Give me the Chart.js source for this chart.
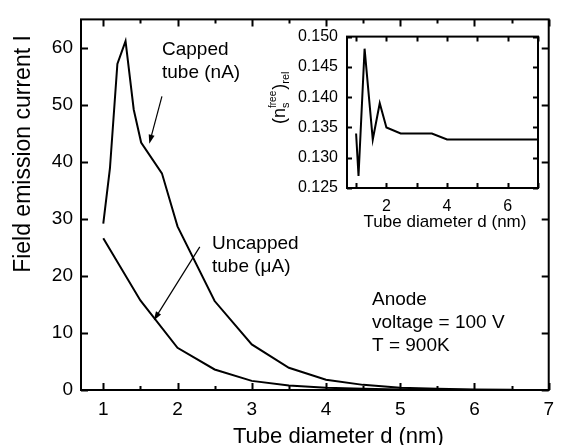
<!DOCTYPE html>
<html>
<head>
<meta charset="utf-8">
<script src="https://cdn.jsdelivr.net/npm/chart.js@4.4.0/dist/chart.umd.min.js"></script>
<style>
  body { margin: 0; background: #fff; }
  #wrap { position: relative; width: 562px; height: 445px; }
  #main { position: absolute; left: 0; top: 0; }
  #inset { position: absolute; left: 260px; top: 18px; }
</style>
</head>
<body>
<div id="wrap">
  <canvas id="main" width="562" height="445"></canvas>
  <canvas id="inset" width="290" height="222"></canvas>
</div>
<script>
// main plot: field emission current vs tube diameter
const cappedD = [1, 1.09, 1.19, 1.3, 1.41, 1.51, 1.79, 2, 2.5, 3, 3.5, 4, 4.5, 5, 5.5, 6, 6.5];
const cappedI = [29.2, 38.9, 57.2, 61.2, 49.2, 43.4, 38, 28.7, 15.6, 8, 3.9, 1.8, 0.9, 0.4, 0.2, 0.1, 0.05];
const uncappedD = [1, 1.5, 2, 2.5, 3, 3.5, 4, 4.5, 5, 5.5, 6, 6.5];
const uncappedI = [26.6, 15.7, 7.4, 3.6, 1.6, 0.8, 0.4, 0.2, 0.1, 0.05, 0.02, 0.01];
const xTicks = [1, 2, 3, 4, 5, 6, 7];
const xMinor = [1.5, 2.5, 3.5, 4.5, 5.5, 6.5];
const yTicks = [0, 10, 20, 30, 40, 50, 60];

// inset: relative free electron density
const insetD = [1, 1.08, 1.28, 1.55, 1.78, 2, 2.47, 3.5, 4, 7];
const insetN = [0.134, 0.127, 0.148, 0.133, 0.139, 0.135, 0.134, 0.134, 0.133, 0.133];
const insetXTicks = [2, 4, 6];
const insetXMinor = [1, 3, 5, 7];
const insetYTicks = [0.125, 0.13, 0.135, 0.14, 0.145, 0.15];

const FONT = '"Liberation Sans", Arial, sans-serif';

const pts = (xs, ys) => xs.map((x, i) => ({ x: x, y: ys[i] }));

function text(ctx, str, x, y, size, align) {
    ctx.font = size + 'px ' + FONT;
    ctx.textAlign = align || 'left';
    ctx.textBaseline = 'alphabetic';
    ctx.fillText(str, x, y);
}

function arrow(ctx, x1, y1, x2, y2) {
    const ang = Math.atan2(y2 - y1, x2 - x1);
    ctx.beginPath();
    ctx.moveTo(x1, y1);
    ctx.lineTo(x2 - 6 * Math.cos(ang), y2 - 6 * Math.sin(ang));
    ctx.stroke();
    ctx.beginPath();
    ctx.moveTo(x2, y2);
    ctx.lineTo(x2 - 9 * Math.cos(ang) + 3 * Math.sin(ang), y2 - 9 * Math.sin(ang) - 3 * Math.cos(ang));
    ctx.lineTo(x2 - 9 * Math.cos(ang) - 3 * Math.sin(ang), y2 - 9 * Math.sin(ang) + 3 * Math.cos(ang));
    ctx.closePath();
    ctx.fill();
}

// box around the plot area plus inward ticks on all four sides
function frameAndTicks(chart, o) {
    const { ctx, chartArea: a, scales: { x, y } } = chart;
    ctx.save();
    ctx.strokeStyle = '#000';
    ctx.lineWidth = o.frame;
    ctx.strokeRect(a.left, a.top, a.right - a.left, a.bottom - a.top);
    ctx.lineWidth = o.tickW;
    ctx.beginPath();
    const vx = (vals, len) => vals.forEach(v => {
        const px = Math.round(x.getPixelForValue(v)) + 0.5;
        ctx.moveTo(px, a.bottom); ctx.lineTo(px, a.bottom - len);
        ctx.moveTo(px, a.top); ctx.lineTo(px, a.top + len);
    });
    const vy = (vals, len) => vals.forEach(v => {
        const py = Math.round(y.getPixelForValue(v)) + 0.5;
        ctx.moveTo(a.left, py); ctx.lineTo(a.left + len, py);
        ctx.moveTo(a.right, py); ctx.lineTo(a.right - len, py);
    });
    vx(o.xMajor, o.major);
    vx(o.xMinor, o.minor);
    vy(o.yMajor, o.major);
    ctx.stroke();
    ctx.restore();
}

const mainDecor = {
    id: 'mainDecor',
    afterDraw(chart) {
        frameAndTicks(chart, { frame: 2, tickW: 2, major: 7, minor: 4, xMajor: xTicks, xMinor: xMinor, yMajor: yTicks });
        const { ctx, scales: { x, y } } = chart;
        ctx.save();
        ctx.fillStyle = '#000';
        ctx.strokeStyle = '#000';
        ctx.lineWidth = 1.2;

        // axis titles
        text(ctx, 'Tube diameter d (nm)', 233, 443, 22);
        ctx.save();
        ctx.translate(30, 154);
        ctx.rotate(-Math.PI / 2);
        text(ctx, 'Field emission current I', 0, 0, 23, 'center');
        ctx.restore();

        // curve labels
        text(ctx, 'Capped', 162, 55, 19);
        text(ctx, 'tube (nA)', 162, 78, 19);
        text(ctx, 'Uncapped', 212, 249, 19);
        text(ctx, 'tube (\u03bcA)', 212, 272, 19);
        text(ctx, 'Anode', 372, 305, 19);
        text(ctx, 'voltage = 100 V', 372, 328, 19);
        text(ctx, 'T = 900K', 372, 351, 19);

        arrow(ctx, x.getPixelForValue(1.79), y.getPixelForValue(51.5), x.getPixelForValue(1.62), y.getPixelForValue(43.2));
        arrow(ctx, x.getPixelForValue(2.3), y.getPixelForValue(25.1), x.getPixelForValue(1.68), y.getPixelForValue(12.2));
        ctx.restore();
    }
};

const insetDecor = {
    id: 'insetDecor',
    afterDraw(chart) {
        frameAndTicks(chart, { frame: 2, tickW: 2, major: 5, minor: 5, xMajor: insetXTicks, xMinor: insetXMinor, yMajor: insetYTicks });
        const { ctx } = chart;
        ctx.save();
        ctx.fillStyle = '#000';
        text(ctx, 'Tube diameter d (nm)', 185, 209, 17, 'center');

        // (n_s^free)_rel, rotated
        ctx.translate(25, 106);
        ctx.rotate(-Math.PI / 2);
        let cx = 0;
        const part = (s, size, dy) => {
            ctx.font = size + 'px ' + FONT;
            ctx.textAlign = 'left';
            ctx.fillText(s, cx, dy);
            return ctx.measureText(s).width;
        };
        cx += part('(', 18, 0);
        cx += part('n', 18, 0);
        const w1 = part('s', 11, 4);
        const w2 = part('free', 10, -9);
        cx += Math.max(w1, w2) + 1;
        cx += part(')', 18, 0);
        part('rel', 11, 4);
        ctx.restore();
    }
};

const lineStyle = { borderColor: '#000', borderWidth: 2, pointRadius: 0, tension: 0, fill: false };

new Chart(document.getElementById('main'), {
    type: 'line',
    data: {
        datasets: [
            Object.assign({ label: 'Capped tube (nA)', data: pts(cappedD, cappedI) }, lineStyle),
            Object.assign({ label: 'Uncapped tube (\u03bcA)', data: pts(uncappedD, uncappedI) }, lineStyle)
        ]
    },
    options: {
        responsive: false,
        animation: false,
        devicePixelRatio: 1,
        layout: { padding: { top: 12, right: 6, left: 0, bottom: 0 } },
        plugins: { legend: { display: false }, tooltip: { enabled: false } },
        scales: {
            x: {
                type: 'linear', min: 0.7, max: 7,
                grid: { display: false, drawTicks: false },
                border: { display: false },
                afterBuildTicks: s => { s.ticks = xTicks.map(v => ({ value: v })); },
                afterFit: s => { s.height = 55; },
                ticks: { color: '#000', padding: 8, font: { family: FONT, size: 19 }, callback: v => String(v) }
            },
            y: {
                type: 'linear', min: 0, max: 65,
                grid: { display: false, drawTicks: false },
                border: { display: false },
                afterBuildTicks: s => { s.ticks = yTicks.map(v => ({ value: v })); },
                afterFit: s => { s.width = 81; },
                ticks: { color: '#000', padding: 8, font: { family: FONT, size: 19 }, callback: v => String(v) }
            }
        }
    },
    plugins: [mainDecor]
});

new Chart(document.getElementById('inset'), {
    type: 'line',
    data: {
        datasets: [Object.assign({ label: 'n_rel', data: pts(insetD, insetN) }, lineStyle)]
    },
    options: {
        responsive: false,
        animation: false,
        devicePixelRatio: 1,
        layout: { padding: { top: 11, right: 12, left: 0, bottom: 0 } },
        plugins: { legend: { display: false }, tooltip: { enabled: false } },
        scales: {
            x: {
                type: 'linear', min: 0.7, max: 7,
                grid: { display: false, drawTicks: false },
                border: { display: false },
                afterBuildTicks: s => { s.ticks = insetXTicks.map(v => ({ value: v })); },
                afterFit: s => { s.height = 52; },
                ticks: { color: '#000', padding: 9, font: { family: FONT, size: 16 }, callback: v => String(v) }
            },
            y: {
                type: 'linear', min: 0.125, max: 0.15,
                grid: { display: false, drawTicks: false },
                border: { display: false },
                afterBuildTicks: s => { s.ticks = insetYTicks.map(v => ({ value: v })); },
                afterFit: s => { s.width = 87; },
                ticks: { color: '#000', padding: 9, font: { family: FONT, size: 16 }, callback: v => v.toFixed(3) }
            }
        }
    },
    plugins: [insetDecor]
});
</script>
</body>
</html>
